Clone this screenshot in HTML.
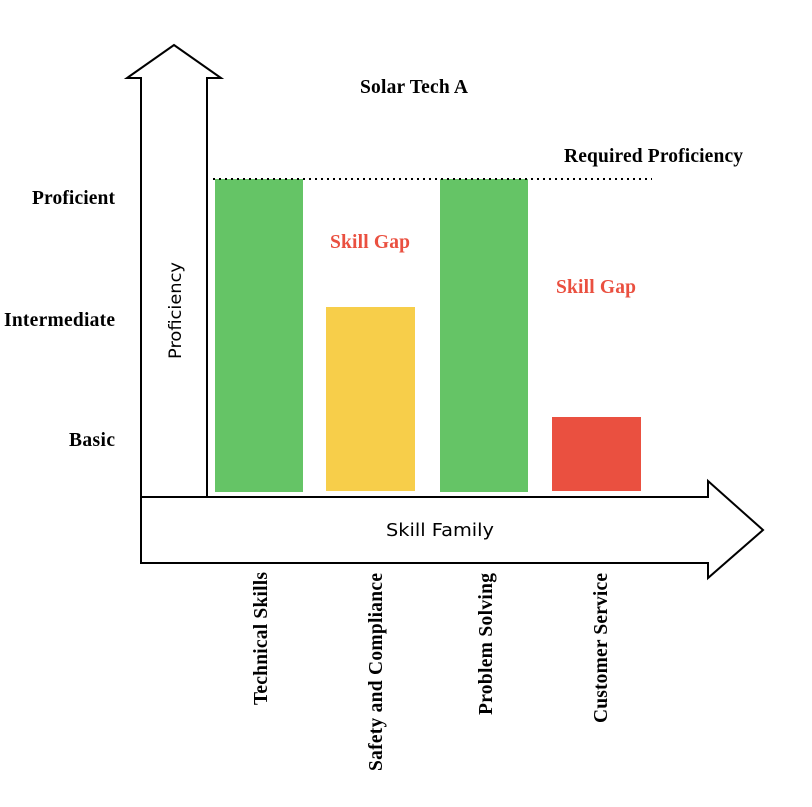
<!DOCTYPE html>
<html><head><style>body{margin:0;background:#fff}</style></head><body>
<svg width="812" height="802" xmlns="http://www.w3.org/2000/svg">
<rect width="812" height="802" fill="#fff"/>
<rect x="215" y="179" width="88" height="313" fill="#65c466"/>
<rect x="326" y="307" width="89" height="184" fill="#f7ce4a"/>
<rect x="440" y="179" width="88" height="313" fill="#65c466"/>
<rect x="552" y="417" width="89" height="74" fill="#ea5040"/>
<line x1="213" y1="179" x2="652" y2="179" stroke="#000" stroke-width="2" stroke-dasharray="2,4"/>
<path d="M141,563 L141,78 L127,78 L174,45 L221,78 L207,78 L207,497" fill="none" stroke="#000" stroke-width="2"/>
<path d="M141,497 L708,497 L708,481 L763,530 L708,578 L708,563 L141,563 Z" fill="#fff" stroke="#000" stroke-width="2"/>
<g font-family="Liberation Serif, serif" font-weight="bold" font-size="19.5" lengthAdjust="spacingAndGlyphs">
<text x="360" y="93" textLength="108">Solar Tech A</text>
<text x="564" y="162" textLength="179">Required Proficiency</text>
<text x="32" y="204" textLength="83">Proficient</text>
<text x="4" y="326" textLength="111">Intermediate</text>
<text x="69" y="446" textLength="46">Basic</text>
<text x="330" y="248" textLength="80" fill="#ea5040">Skill Gap</text>
<text x="556" y="293" textLength="80" fill="#ea5040">Skill Gap</text>
<text transform="translate(267,705) rotate(-90)" textLength="133">Technical Skills</text>
<text transform="translate(382,771) rotate(-90)" textLength="198">Safety and Compliance</text>
<text transform="translate(492,715) rotate(-90)" textLength="142">Problem Solving</text>
<text transform="translate(607,723) rotate(-90)" textLength="150">Customer Service</text>
</g>
<g font-family="DejaVu Sans, sans-serif" font-size="18">
<text x="386" y="536" textLength="108" lengthAdjust="spacingAndGlyphs">Skill Family</text>
<text transform="translate(181,359) rotate(-90)" font-size="17" textLength="97" lengthAdjust="spacingAndGlyphs">Proficiency</text>
</g>
</svg>
</body></html>
